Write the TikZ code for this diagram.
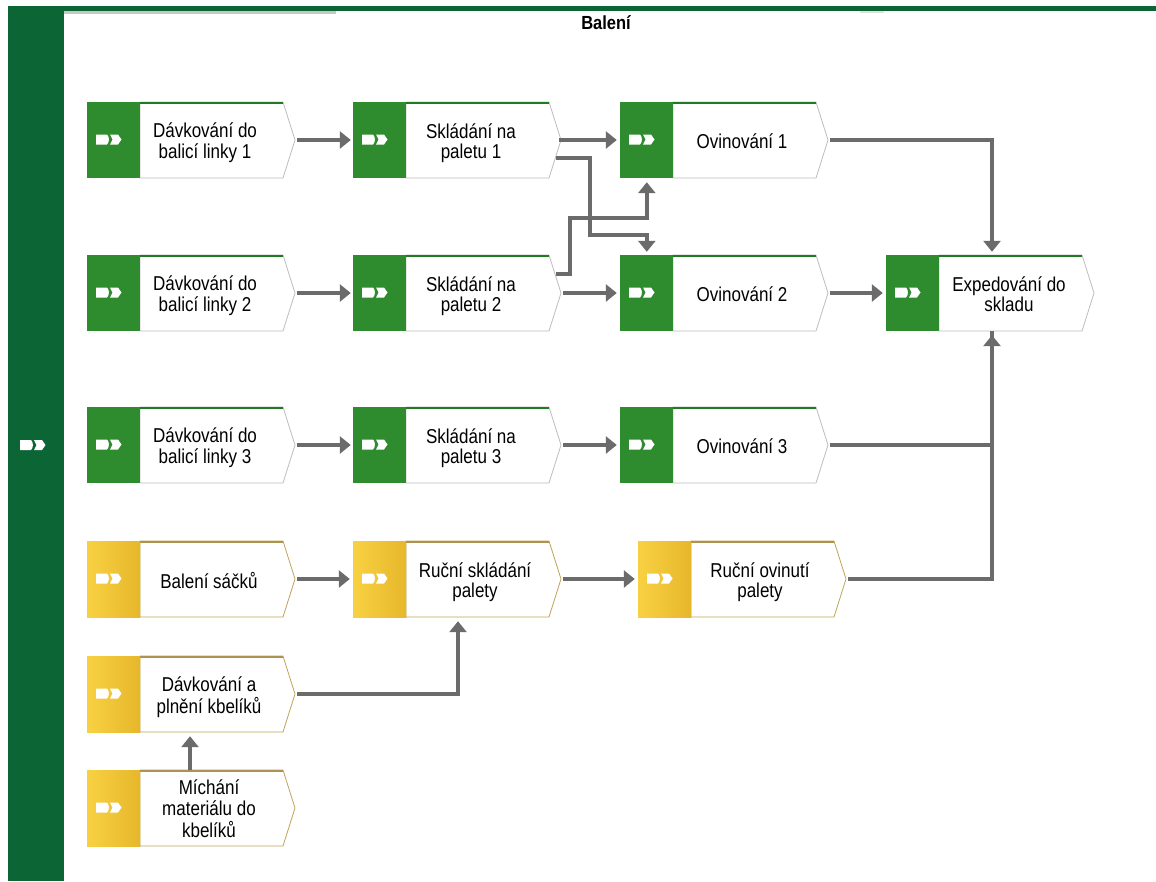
\documentclass[tikz,border=0pt]{standalone}
\usepackage{fontspec}
\setmainfont{Liberation Sans}
\usetikzlibrary{arrows.meta,calc}

\definecolor{bargreen}{HTML}{0B6535}
\definecolor{boxgreen}{HTML}{2E8B2E}
\definecolor{boxgreentop}{HTML}{1F7A22}
\definecolor{yelL}{HTML}{F8D143}
\definecolor{yelR}{HTML}{E7B72B}
\definecolor{yeledge}{HTML}{BFA35A}
\definecolor{greyedge}{HTML}{BDBDBD}
\definecolor{flow}{HTML}{6B6B6B}

\tikzset{
  boxarea/.style={rectangle,minimum width=208pt,minimum height=76pt,inner sep=0pt},
  boxtext/.style={inner sep=0pt,font=\fontsize{17}{17}\selectfont,text=black},
  gfill/.style={fill=boxgreen},
  yfill/.style={left color=yelL,right color=yelR},
  gedge/.style={draw=greyedge,line width=0.8pt,fill=white},
  yedge/.style={draw=yeledge,line width=0.8pt,fill=white},
  gtop/.style={draw=boxgreentop,line width=2.2pt},
  ytop/.style={draw=yeledge!90!black,line width=1.8pt},
  flowline/.style={draw=flow,line width=3.6pt,-{Triangle[length=11pt,width=17pt]}},
  flowjoin/.style={draw=flow,line width=3.6pt},
}

% taller-than-wide label lettering
\newcommand\stretchlabel[1]{\scalebox{1}[1.18]{\begin{tabular}{@{}c@{}}#1\end{tabular}}}

% process box: [#1 text offset], #2 name, #3 left, #4 top, #5 g or y, #6 label
\newcommand\procbox[6][122]{%
  \node[boxarea] (#2) at (#3+104,#4+38) {};
  \path[#5edge] (#3+53,#4) -- (#3+196,#4) -- (#3+208,#4+38) -- (#3+196,#4+76) -- (#3+53,#4+76) -- cycle;
  \path[#5top] (#3+53,#4+0.6) -- (#3+196,#4+0.6);
  \path[#5fill] (#3,#4) rectangle (#3+53,#4+76);
  \fill[white] (#3+9,#4+32.5) -- (#3+20,#4+32.5) .. controls (#3+22.5,#4+34) and (#3+22.5,#4+41) .. (#3+20,#4+42.5) -- (#3+9,#4+42.5) -- cycle;
  \fill[white] (#3+23,#4+32.5) -- (#3+31,#4+32.5) -- (#3+34.5,#4+37.5) -- (#3+31,#4+42.5) -- (#3+23,#4+42.5) -- (#3+25.5,#4+37.5) -- cycle;
  \node[boxtext] at (#3+#1,#4+42) {\stretchlabel{#6}};
}

\begin{document}
\begin{tikzpicture}[x=1pt,y=-1pt]
  \useasboundingbox (0,0) rectangle (1156,881);
  \fill[white] (0,0) rectangle (1156,881);

  % lane frame
  \fill[bargreen] (8,6) rectangle (1156,11);
  \fill[bargreen] (8,6) rectangle (64,881);
  \fill[black!22] (64,11) rectangle (336,14);
  \fill[black!12] (860,11) rectangle (884,13);
  \fill[white] (20,440) -- (31,440) .. controls (33.5,441.5) and (33.5,448.5) .. (31,450) -- (20,450) -- cycle;
  \fill[white] (34,440) -- (42,440) -- (45.5,445) -- (42,450) -- (34,450) -- (36.5,445) -- cycle;
  \node[font=\bfseries\fontsize{16.5}{16.5}\selectfont] (title) at (606,23) {\scalebox{1}[1.15]{Balení}};

  % green process boxes
  \procbox[118]{d1}{87}{102}{g}{Dávkování do\\balicí linky 1}
  \procbox[118]{s1}{353}{102}{g}{Skládání na\\paletu 1}
  \procbox{o1}{620}{102}{g}{Ovinování 1}
  \procbox[118]{d2}{87}{255}{g}{Dávkování do\\balicí linky 2}
  \procbox[118]{s2}{353}{255}{g}{Skládání na\\paletu 2}
  \procbox{o2}{620}{255}{g}{Ovinování 2}
  \procbox[123]{ex}{886}{255}{g}{Expedování do\\skladu}
  \procbox[118]{d3}{87}{407}{g}{Dávkování do\\balicí linky 3}
  \procbox[118]{s3}{353}{407}{g}{Skládání na\\paletu 3}
  \procbox{o3}{620}{407}{g}{Ovinování 3}

  % yellow process boxes
  \procbox{b1}{87}{541}{y}{Balení sáčků}
  \procbox{r2}{353}{541}{y}{Ruční skládání\\palety}
  \procbox{r3}{638}{541}{y}{Ruční ovinutí\\palety}
  \procbox{k1}{87}{656}{y}{Dávkování  a\\plnění kbelíků}
  \procbox{m1}{87}{770}{y}{Míchání\\materiálu do\\kbelíků}

  % flow connectors
  \draw[flowline] ([xshift=2pt]d1.east) -- ([xshift=-2pt]s1.west);
  \draw[flowline] ([xshift=-2pt]s1.east) -- ([xshift=-3pt]o1.west);
  \draw[flowline] ([xshift=2pt]d2.east) -- ([xshift=-2pt]s2.west);
  \draw[flowline] ([xshift=2pt]s2.east) -- ([xshift=-3pt]o2.west);
  \draw[flowline] ([xshift=2pt]o2.east) -- ([xshift=-3pt]ex.west);
  \draw[flowline] ([xshift=2pt]d3.east) -- ([xshift=-2pt]s3.west);
  \draw[flowline] ([xshift=2pt]s3.east) -- ([xshift=-3pt]o3.west);
  \draw[flowline] ([xshift=2pt]b1.east) -- ([xshift=-3pt]r2.west);
  \draw[flowline] ([xshift=2pt]r2.east) -- ([xshift=-3pt]r3.west);

  \draw[flowline] ($(s1.east)+(-5,18)$) -| ($(s1.east)+(29,95)$) -| ([xshift=27pt,yshift=3pt]o2.north west);
  \draw[flowline] ($(s2.east)+(-5,-19)$) -| ($(s2.east)+(9,-75)$) -| ([xshift=27pt,yshift=-4pt]o1.south west);

  \draw[flowline] ([xshift=2pt]o1.east) -| ([xshift=2pt,yshift=3pt]ex.north);
  \draw[flowjoin] ([xshift=2pt]o3.east) -| ([xshift=2pt]ex.south);
  \draw[flowjoin] ([xshift=2pt]r3.east) -| ($(ex.south)+(2,100)$);
  \draw[flowline] ($(ex.south)+(2,110)$) -- ([xshift=2pt,yshift=-4pt]ex.south);

  \draw[flowline] ([xshift=2pt]k1.east) -| ([xshift=1pt,yshift=-4pt]r2.south);
  \draw[flowline] ([xshift=-1pt]m1.north) -- ([xshift=-1pt,yshift=-4pt]k1.south);
\end{tikzpicture}
\end{document}
